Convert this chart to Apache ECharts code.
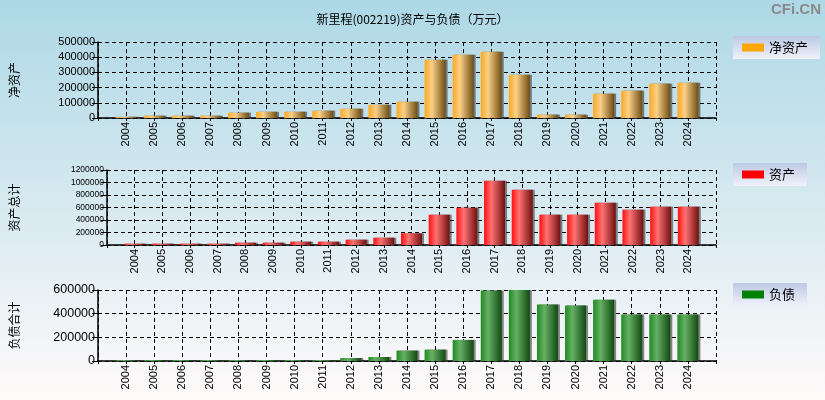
<!DOCTYPE html>
<html>
<head>
    <meta charset="utf-8">
    <title>新里程资产与负债</title>
    <script src="https://cdn.jsdelivr.net/npm/echarts@6/dist/echarts.min.js"></script>
    <style>
        html, body { margin: 0; padding: 0; }
        #main { width: 825px; height: 400px; }
    </style>
</head>
<body>
<div id="main"></div>
<script type="text/javascript">
    // 年份
    var years = [2004, 2005, 2006, 2007, 2008, 2009, 2010, 2011, 2012, 2013, 2014,
                 2015, 2016, 2017, 2018, 2019, 2020, 2021, 2022, 2023, 2024];
    // 净资产（万元）
    var netAssets = [8000, 15000, 15000, 15000, 35000, 41000, 41000, 48000, 61000, 87000, 107000,
                     383000, 416000, 436000, 285000, 22000, 22000, 160000, 180000, 226000, 232000];
    // 资产总计
    var totalAssets = [21000, 21000, 21000, 21000, 37000, 37000, 53000, 53000, 85000, 117000, 187000,
                       485000, 597000, 1029000, 885000, 485000, 485000, 677000, 565000, 613000, 613000];
    // 负债合计
    var totalDebt = [8000, 8000, 8000, 8000, 8000, 8000, 8000, 8000, 25000, 34000, 88000,
                     96000, 178000, 596000, 600000, 478000, 470000, 518000, 393000, 393000, 393000];

    var font = 'Liberation Sans, Arial, sans-serif';
    var cjk = 'Noto Sans CJK SC, sans-serif';

    function pairs(vals) {
        var out = [];
        for (var i = 0; i < years.length; i++) out.push([years[i], vals[i]]);
        return out;
    }
    function barGrad(c0, c1, c2) {
        return new echarts.graphic.LinearGradient(0, 0, 1, 0, [
            {offset: 0, color: c0}, {offset: 0.35, color: c1}, {offset: 1, color: c2}
        ]);
    }
    var dashed = {show: true, lineStyle: {color: '#000', type: [4, 3], width: 1}};

    function xAxisFor(idx) {
        return {
            type: 'value', gridIndex: idx, min: 2003, max: 2025, interval: 1,
            axisLine: {onZero: false, lineStyle: {color: '#000', width: 1.5}},
            axisTick: {show: true, length: 3, lineStyle: {color: '#000'}},
            axisLabel: {
                rotate: 90, fontSize: 11, fontFamily: font, color: '#000', margin: 4,
                formatter: function (v) { return (v > 2003 && v < 2025) ? String(v) : ''; }
            },
            splitLine: dashed
        };
    }
    function yAxisFor(idx, name, max, step, fs, gap) {
        return {
            type: 'value', gridIndex: idx, min: 0, max: max, interval: step,
            name: name, nameLocation: 'middle', nameRotate: 90, nameGap: gap,
            nameTextStyle: {fontFamily: cjk, fontSize: 12, color: '#000'},
            axisLine: {show: true, lineStyle: {color: '#000', width: 1.5}},
            axisTick: {show: true, length: 6, lineStyle: {color: '#000'}},
            axisLabel: {
                fontSize: fs, fontFamily: font, color: '#000', margin: 3,
                formatter: function (v) { return String(v); }
            },
            splitLine: dashed
        };
    }
    function legendFor(name, color, top) {
        return {
            data: [{name: name, itemStyle: {color: color}}],
            left: 733, top: top, orient: 'vertical',
            icon: 'rect', itemWidth: 22, itemHeight: 8, itemGap: 0,
            padding: [5, 12, 5, 9],
            textStyle: {fontFamily: cjk, fontSize: 13, color: '#000'},
            backgroundColor: new echarts.graphic.LinearGradient(0, 0, 0, 1, [
                {offset: 0, color: '#bcc8e4'}, {offset: 1, color: '#f0f2fa'}
            ])
        };
    }
    function barSeries(name, idx, vals, grad) {
        return {
            name: name, type: 'bar', xAxisIndex: idx, yAxisIndex: idx,
            data: pairs(vals), barWidth: 21,
            itemStyle: {
                color: grad,
                shadowColor: 'rgba(40,40,40,0.55)', shadowOffsetX: 2, shadowBlur: 0
            }
        };
    }

    var myChart = echarts.init(document.getElementById('main'));
    var option = {
        animation: false,
        backgroundColor: new echarts.graphic.LinearGradient(0, 0, 0, 1, [
            {offset: 0, color: '#add8e6'}, {offset: 1, color: '#fffafa'}
        ]),
        title: {
            text: '新里程(002219)资产与负债（万元）',
            left: 'center', top: 8,
            textStyle: {fontFamily: cjk, fontSize: 12, fontWeight: 'normal', color: '#000'}
        },
        graphic: [{
            type: 'text', right: 4, top: 2,
            style: {text: 'CFi.CN', fontFamily: font, fontSize: 15, fontWeight: 'bold', fill: '#8a8a8a'}
        }],
        legend: [
            legendFor('净资产', '#ffa500', 36),
            legendFor('资产', '#ff0000', 163),
            legendFor('负债', '#008000', 283)
        ],
        grid: [
            {left: 98, top: 42, width: 618, height: 76},
            {left: 107, top: 170, width: 609, height: 75},
            {left: 98, top: 290, width: 618, height: 71}
        ],
        xAxis: [xAxisFor(0), xAxisFor(1), xAxisFor(2)],
        yAxis: [
            yAxisFor(0, '净资产', 500000, 100000, 11, 78),
            yAxisFor(1, '资产总计', 1200000, 200000, 8.5, 87),
            yAxisFor(2, '负债合计', 600000, 200000, 12.5, 78)
        ],
        series: [
            barSeries('净资产', 0, netAssets, barGrad('#ffa820', '#fad088', '#6e4c12')),
            barSeries('资产', 1, totalAssets, barGrad('#ff1010', '#ff7272', '#701010')),
            barSeries('负债', 2, totalDebt, barGrad('#208a20', '#66b066', '#104a10'))
        ]
    };
    myChart.setOption(option);
</script>
</body>
</html>
